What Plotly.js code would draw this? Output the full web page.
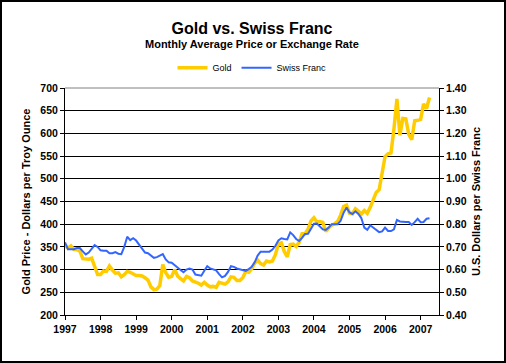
<!DOCTYPE html>
<html>
<head>
<meta charset="utf-8">
<script src="https://cdn.plot.ly/plotly-3.0.1.min.js"></script>
<style>
  html, body { margin: 0; padding: 0; background: #ffffff; }
  #wrap { position: relative; width: 506px; height: 363px; }
  #chart { position: absolute; left: 0; top: 0; width: 506px; height: 363px; }
  #frame { position: absolute; left: 0; top: 0; width: 506px; height: 363px; box-sizing: border-box; border: 2px solid #000; pointer-events: none; }
</style>
</head>
<body>
<div id="wrap"><div id="chart"></div><div id="frame"></div></div>
<script>
// Monthly series, January 1997 to April 2007
const startYear = 1997;
const goldPrice = [
  354, 347, 352, 344, 344, 341, 324, 324, 323, 325, 306, 289,
  289, 297, 296, 308, 299, 292, 293, 284, 289, 296, 294, 291,
  287, 287, 286, 282, 277, 262, 256, 257, 265, 311, 293, 283,
  285, 300, 286, 280, 275, 285, 282, 275, 273, 270, 266, 272,
  266, 262, 263, 261, 272, 270, 268, 273, 284, 283, 276, 276,
  282, 296, 294, 302, 314, 321, 313, 310, 319, 317, 319, 333,
  357, 359, 340, 328, 355, 356, 351, 360, 379, 379, 389, 407,
  414, 405, 406, 404, 384, 392, 398, 401, 406, 420, 439, 442,
  424, 423, 434, 429, 422, 430, 424, 437, 456, 470, 476, 510,
  549, 555, 557, 610, 676, 596, 633, 632, 598, 586, 628, 629,
  631, 665, 655, 679
];
const swissFranc = [
  0.720, 0.690, 0.690, 0.690, 0.695, 0.695, 0.680, 0.667, 0.675, 0.690, 0.708, 0.700,
  0.685, 0.683, 0.683, 0.672, 0.672, 0.677, 0.670, 0.668, 0.700, 0.745, 0.730, 0.738,
  0.728, 0.710, 0.692, 0.675, 0.672, 0.660, 0.652, 0.655, 0.660, 0.668, 0.645, 0.632,
  0.630, 0.618, 0.608, 0.598, 0.588, 0.600, 0.605, 0.600, 0.578, 0.574, 0.573, 0.595,
  0.615, 0.605, 0.600, 0.597, 0.580, 0.566, 0.572, 0.590, 0.615, 0.612, 0.605, 0.602,
  0.598, 0.594, 0.602, 0.612, 0.632, 0.662, 0.679, 0.679, 0.678, 0.679, 0.688, 0.705,
  0.728, 0.738, 0.735, 0.733, 0.764, 0.752, 0.735, 0.726, 0.740, 0.757, 0.758, 0.780,
  0.802, 0.803, 0.790, 0.777, 0.775, 0.785, 0.800, 0.800, 0.800, 0.815, 0.850, 0.874,
  0.852, 0.845, 0.857, 0.845, 0.826, 0.785, 0.775, 0.795, 0.785, 0.776, 0.765, 0.768,
  0.785, 0.770, 0.770, 0.777, 0.819, 0.812, 0.810, 0.810, 0.810, 0.797, 0.809, 0.824,
  0.809, 0.810, 0.824, 0.826
];
const yearTicks = [1997, 1998, 1999, 2000, 2001, 2002, 2003, 2004, 2005, 2006, 2007];
const goldTicks = [200, 250, 300, 350, 400, 450, 500, 550, 600, 650, 700];
const francTicks = [0.4, 0.5, 0.6, 0.7, 0.8, 0.9, 1.0, 1.1, 1.2, 1.3, 1.4];

const months = goldPrice.map((_, i) => startYear + i / 12);

const FONT = "Liberation Sans, Arial, sans-serif";

const traces = [
  {
    x: months, y: goldPrice, name: "Gold", type: "scatter", mode: "lines",
    line: { color: "#FFCC00", width: 3.5 }, yaxis: "y"
  },
  {
    x: months, y: swissFranc, name: "Swiss Franc", type: "scatter", mode: "lines",
    line: { color: "#3366FF", width: 2 }, yaxis: "y2"
  }
];

const layout = {
  width: 506, height: 363,
  margin: { l: 65, r: 67, t: 88, b: 48, pad: 0 },
  paper_bgcolor: "#ffffff", plot_bgcolor: "#ffffff",
  font: { family: FONT, color: "#000" },
  showlegend: true,
  title: {
    text: "Gold vs. Swiss Franc",
    font: { family: FONT, size: 16, weight: "bold", color: "#000" },
    x: 0.5, xanchor: "center", xref: "paper",
    y: 1 - 28 / 363, yanchor: "middle", yref: "container"
  },
  legend: {
    orientation: "h", x: 0.5, xanchor: "center", y: 1.089, yanchor: "middle",
    font: { family: FONT, size: 9, color: "#000" },
    bgcolor: "rgba(0,0,0,0)", traceorder: "normal", itemwidth: 30
  },
  xaxis: {
    range: [1997, 1997 + 126.2 / 12],
    tickvals: yearTicks, ticktext: yearTicks.map(String),
    ticks: "outside", ticklen: 4, tickcolor: "#000", tickwidth: 1,
    showline: true, linecolor: "#000", linewidth: 1,
    showgrid: false, zeroline: false,
    tickfont: { family: FONT, size: 10.5, weight: "bold", color: "#000" }
  },
  yaxis: {
    range: [200, 700], tickvals: goldTicks,
    ticks: "outside", ticklen: 4, tickcolor: "#000",
    showline: true, linecolor: "#000", linewidth: 1,
    showgrid: true, gridcolor: "#000", gridwidth: 1, zeroline: false,
    tickfont: { family: FONT, size: 10.5, weight: "bold", color: "#000" },
    title: { text: "Gold Price - Dollars per Troy Ounce", standoff: 7,
             font: { family: FONT, size: 11, weight: "bold", color: "#000" } }
  },
  yaxis2: {
    range: [0.4, 1.4], tickvals: francTicks, tickformat: ".2f",
    overlaying: "y", side: "right",
    ticks: "outside", ticklen: 4, tickcolor: "#000",
    showline: true, linecolor: "#000", linewidth: 1,
    showgrid: false, zeroline: false,
    tickfont: { family: FONT, size: 10.5, weight: "bold", color: "#000" },
    title: { text: "U.S. Dollars per Swiss Franc", standoff: 6,
             font: { family: FONT, size: 11, weight: "bold", color: "#000" } }
  },
  annotations: [
    {
      text: "Monthly Average Price or Exchange Rate",
      xref: "paper", yref: "paper", x: 0.5, y: (315 - 44) / 227,
      xanchor: "center", yanchor: "middle", showarrow: false,
      font: { family: FONT, size: 11, weight: "bold", color: "#000" }
    }
  ],
  shapes: [
    { type: "line", xref: "paper", yref: "paper", x0: 0, x1: 1, y0: 1, y1: 1,
      line: { color: "#808080", width: 1 }, layer: "above" }
  ]
};

Plotly.newPlot("chart", traces, layout, { staticPlot: true, displayModeBar: false });
</script>
</body>
</html>
